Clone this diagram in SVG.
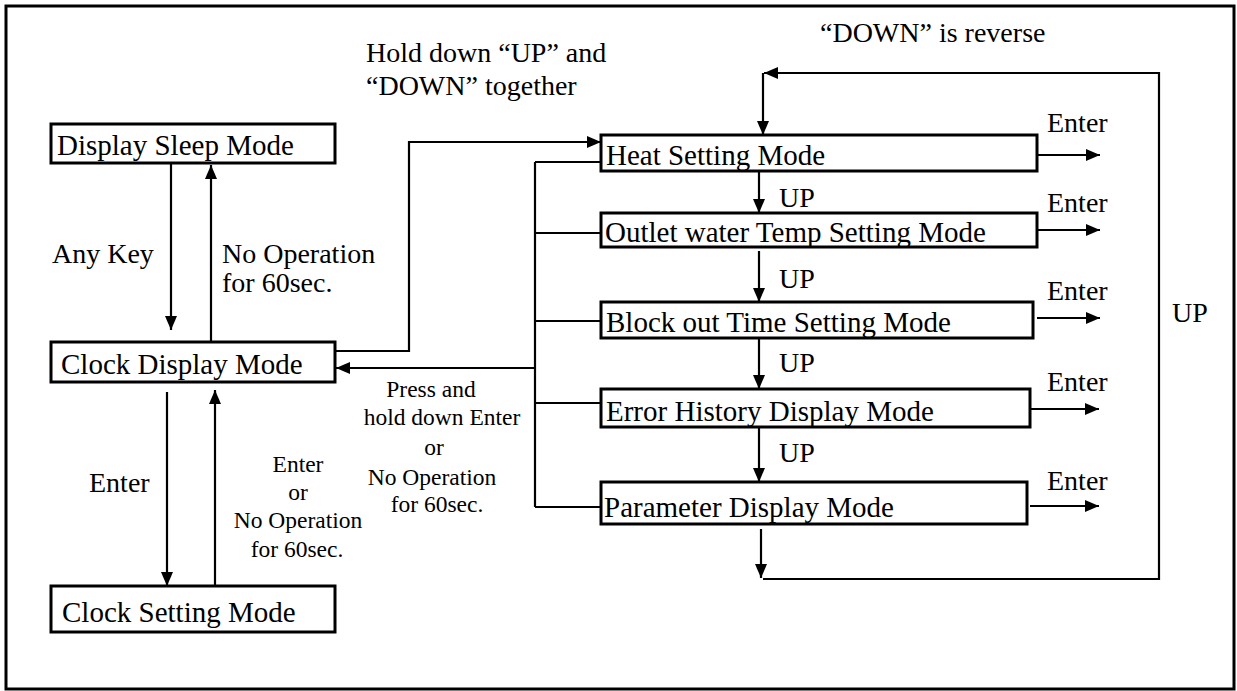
<svg xmlns="http://www.w3.org/2000/svg" width="1237" height="691" viewBox="0 0 1237 691">
<defs>
<style>
.box{fill:#fff;stroke:#000;stroke-width:3}
.ln{fill:none;stroke:#000;stroke-width:2.2}
.ar{fill:none;stroke:#000;stroke-width:2.2;marker-end:url(#ah)}
</style>
<marker id="ah" viewBox="0 0 14 12" refX="14" refY="6" markerWidth="14" markerHeight="12" orient="auto" markerUnits="userSpaceOnUse">
<path d="M0,0 L14,6 L0,12 z" fill="#000"/>
</marker>
</defs>
<rect x="0" y="0" width="1237" height="691" fill="#fff"/>
<rect x="6" y="6" width="1228" height="683" fill="none" stroke="#000" stroke-width="3"/>

<g id="connectors">
<path class="ar" d="M171,164 V330"/>
<path class="ar" d="M211,341 V165"/>
<path class="ar" d="M167,392 V586"/>
<path class="ar" d="M215,586 V390"/>
<path class="ar" d="M335,351 H409 V142 H601"/>
<path class="ln" d="M535,162 V507"/>
<path class="ln" d="M535,162 H601 M535,233 H601 M535,321 H601 M535,403 H601 M535,507 H601"/>
<path class="ar" d="M535,368 H336"/>
<path class="ar" d="M759,171 V213"/>
<path class="ar" d="M759,251 V302"/>
<path class="ar" d="M759,338 V389"/>
<path class="ar" d="M759,427 V482"/>
<path class="ar" d="M1037,155 H1100"/>
<path class="ar" d="M1037,230 H1100"/>
<path class="ar" d="M1037,318 H1100"/>
<path class="ar" d="M1030,409 H1099"/>
<path class="ar" d="M1030,506 H1099"/>
<path class="ar" d="M761,529 V578"/>
<path class="ar" d="M763,579 H1159 V73 H764"/>
<path class="ar" d="M763,73 V135"/>
</g>

<g font-family="Liberation Serif, serif" font-size="29" fill="#000">
<g id="n-sleep"><rect class="box" x="51" y="124" width="284" height="39"/><text x="57" y="155">Display Sleep Mode</text></g>
<g id="n-clockdisplay"><rect class="box" x="51" y="342" width="284" height="40"/><text x="61" y="374">Clock Display Mode</text></g>
<g id="n-clocksetting"><rect class="box" x="51" y="586" width="284" height="46"/><text x="62" y="622">Clock Setting Mode</text></g>
<g id="n-heat"><rect class="box" x="601" y="135" width="436" height="36"/><text x="606" y="165">Heat Setting Mode</text></g>
<g id="n-outlet"><rect class="box" x="601" y="213" width="436" height="34"/><text x="605" y="242">Outlet water Temp Setting Mode</text></g>
<g id="n-block"><rect class="box" x="601" y="302" width="432" height="36"/><text x="606" y="332">Block out Time Setting Mode</text></g>
<g id="n-error"><rect class="box" x="601" y="389" width="429" height="38"/><text x="606" y="421">Error History Display Mode</text></g>
<g id="n-param"><rect class="box" x="601" y="482" width="426" height="42"/><text x="604" y="517">Parameter Display Mode</text></g>
</g>

<g id="labels" font-family="Liberation Serif, serif" font-size="28" fill="#000">
<text x="366" y="62">Hold down “UP” and</text>
<text x="366" y="95">“DOWN” together</text>
<text x="820" y="42">“DOWN” is reverse</text>
<text x="52" y="263">Any Key</text>
<text x="222" y="263">No Operation</text>
<text x="222" y="292">for 60sec.</text>
<text x="89" y="492">Enter</text>
<g font-size="23.5" text-anchor="middle">
<text x="298" y="472">Enter</text>
<text x="298" y="500">or</text>
<text x="298" y="528">No Operation</text>
<text x="297" y="557">for 60sec.</text>
<text x="431" y="397">Press and</text>
<text x="442" y="425">hold down Enter</text>
<text x="434" y="455">or</text>
<text x="432" y="485">No Operation</text>
<text x="437" y="512">for  60sec.</text>
</g>
<text x="779" y="207">UP</text>
<text x="779" y="288">UP</text>
<text x="779" y="372">UP</text>
<text x="779" y="462">UP</text>
<text x="1172" y="322">UP</text>
<text x="1047" y="132">Enter</text>
<text x="1047" y="212">Enter</text>
<text x="1047" y="300">Enter</text>
<text x="1047" y="391">Enter</text>
<text x="1047" y="490">Enter</text>
</g>
</svg>
